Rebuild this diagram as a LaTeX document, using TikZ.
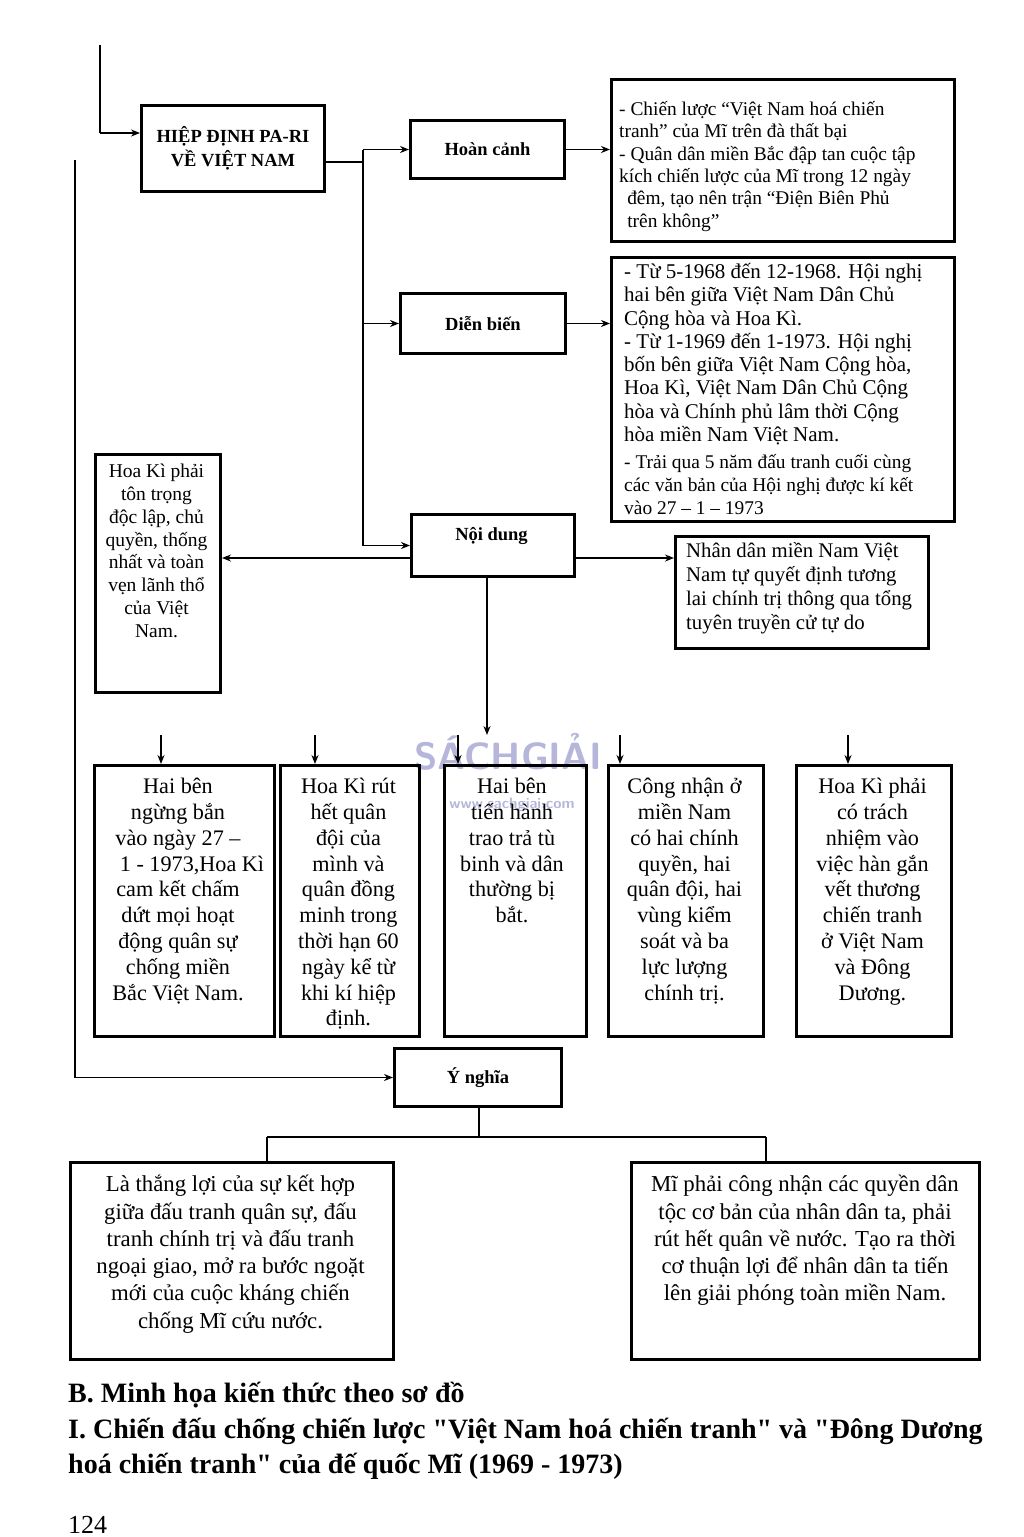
\documentclass[tikz,border=0pt]{standalone}
\usepackage{fontspec}
\setmainfont{Liberation Serif}
\newfontfamily\hfont{Liberation Serif}[Ligatures=TeXOff]
\usetikzlibrary{arrows.meta}
\begin{document}
\begin{tikzpicture}[x=1pt,y=-1pt,
  box/.style={draw, line width=3pt, inner sep=0pt, anchor=north west},
  conn/.style={line width=1.8pt},
  arr/.style={line width=1.8pt, -{Stealth[length=9pt,width=7pt]}},
  hd/.style={font=\fontsize{18.5}{24}\selectfont\bfseries, align=center},
  txt/.style={inner sep=0pt, anchor=north, align=center},
  ltxt/.style={inner sep=0pt, anchor=north west, align=left},
  heading/.style={inner sep=0pt, anchor=base west, font=\hfont\fontsize{28}{30}\selectfont\bfseries}]
\useasboundingbox (0,0) rectangle (1024,1537);
\fill[white] (0,0) rectangle (1024,1537);

% watermark
\node[inner sep=0pt, text=blue!35!gray!60, opacity=0.7, font=\fontsize{38}{38}\selectfont\sffamily\bfseries] (wm) at (508,752) {SÁCHGIẢI};
\node[inner sep=0pt, text=blue!35!gray!60, opacity=0.7, font=\fontsize{15}{15}\selectfont\sffamily\bfseries] (wmurl) at (512,805) {www.sachgiai.com};

% header boxes
\node[box, hd, minimum width=183pt, minimum height=86pt] (hiep) at (140,104) {HIỆP ĐỊNH PA-RI\\VỀ VIỆT NAM};
\node[box, hd, minimum width=154pt, minimum height=58pt] (hoan) at (409,119) {Hoàn cảnh};
\node[box, hd, minimum width=165pt, minimum height=60pt] (dien) at (399,292) {Diễn biến};
\node[box, minimum width=163pt, minimum height=62pt] (noi) at (410,513) {};
\node[hd, inner sep=0pt] (noit) at (491.5,536) {Nội dung};
\node[box, hd, minimum width=167pt, minimum height=58pt] (ynghia) at (393,1047) {Ý nghĩa};

% content boxes
\node[box, minimum width=343pt, minimum height=162pt] (b1) at (610,78) {};
\node[box, minimum width=343pt, minimum height=264pt] (b2) at (610,256) {};
\node[box, minimum width=125pt, minimum height=238pt] (lb) at (94,453) {};
\node[box, minimum width=253pt, minimum height=112pt] (nd) at (674,535) {};
\node[box, minimum width=180pt, minimum height=271pt] (c1) at (93,764) {};
\node[box, minimum width=139pt, minimum height=271pt] (c2) at (279,764) {};
\node[box, minimum width=142pt, minimum height=271pt] (c3) at (443,764) {};
\node[box, minimum width=155pt, minimum height=271pt] (c4) at (607,764) {};
\node[box, minimum width=155pt, minimum height=271pt] (c5) at (795,764) {};
\node[box, minimum width=323pt, minimum height=197pt] (bl) at (69,1161) {};
\node[box, minimum width=348pt, minimum height=197pt] (br) at (630,1161) {};

% texts
\node[ltxt, font=\fontsize{19.4}{22.4}\selectfont] (b1t) at (619,101) {- Chiến lược “Việt Nam hoá chiến\\tranh” của Mĩ trên đà thất bại\\- Quân dân miền Bắc đập tan cuộc tập\\kích chiến lược của Mĩ trong 12 ngày\\\ \,đêm, tạo nên trận “Điện Biên Phủ\\\ \,trên không”};
\node[ltxt, font=\fontsize{21}{23.3}\selectfont] (b2t) at (624,263) {- Từ 5-1968 đến 12-1968. Hội nghị\\hai bên giữa Việt Nam Dân Chủ\\Cộng hòa và Hoa Kì.\\- Từ 1-1969 đến 1-1973. Hội nghị\\bốn bên giữa Việt Nam Cộng hòa,\\Hoa Kì, Việt Nam Dân Chủ Cộng\\hòa và Chính phủ lâm thời Cộng\\hòa miền Nam Việt Nam.};
\node[ltxt, font=\fontsize{19.4}{23}\selectfont] (b2u) at (624,454) {- Trải qua 5 năm đấu tranh cuối cùng\\các văn bản của Hội nghị được kí kết\\vào 27 – 1 – 1973};
\node[txt, font=\fontsize{19.5}{22.8}\selectfont] (lbt) at (156.5,464) {Hoa Kì phải\\tôn trọng\\độc lập, chủ\\quyền, thống\\nhất và toàn\\vẹn lãnh thổ\\của Việt\\Nam.};
\node[ltxt, font=\fontsize{20.8}{24}\selectfont] (ndt) at (686,542) {Nhân dân miền Nam Việt\\Nam tự quyết định tương\\lai chính trị thông qua tổng\\tuyên truyền cử tự do};
\node[txt, font=\fontsize{22.2}{25.8}\selectfont] (c1t) at (178,778) {Hai bên\\ngừng bắn\\vào ngày 27 –\\\hspace*{28pt}1 - 1973,Hoa Kì\\cam kết chấm\\dứt mọi hoạt\\động quân sự\\chống miền\\Bắc Việt Nam.};
\node[txt, font=\fontsize{22.2}{25.8}\selectfont] (c2t) at (348.5,778) {Hoa Kì rút\\hết quân\\đội của\\mình và\\quân đồng\\minh trong\\thời hạn 60\\ngày kể từ\\khi kí hiệp\\định.};
\node[txt, font=\fontsize{22.2}{25.8}\selectfont] (c3t) at (512,778) {Hai bên\\tiến hành\\trao trả tù\\binh và dân\\thường bị\\bắt.};
\node[txt, font=\fontsize{22.2}{25.8}\selectfont] (c4t) at (684.5,778) {Công nhận ở\\miền Nam\\có hai chính\\quyền, hai\\quân đội, hai\\vùng kiểm\\soát và ba\\lực lượng\\chính trị.};
\node[txt, font=\fontsize{22.2}{25.8}\selectfont] (c5t) at (872.5,778) {Hoa Kì phải\\có trách\\nhiệm vào\\việc hàn gắn\\vết thương\\chiến tranh\\ở Việt Nam\\và Đông\\Dương.};
\node[txt, font=\fontsize{22.8}{27.3}\selectfont] (blt) at (230.5,1175) {Là thắng lợi của sự kết hợp\\giữa đấu tranh quân sự, đấu\\tranh chính trị và đấu tranh\\ngoại giao, mở ra bước ngoặt\\mới của cuộc kháng chiến\\chống Mĩ cứu nước.};
\node[txt, font=\fontsize{22.8}{27.3}\selectfont] (brt) at (805,1175) {Mĩ phải công nhận các quyền dân\\tộc cơ bản của nhân dân ta, phải\\rút hết quân về nước. Tạo ra thời\\cơ thuận lợi để nhân dân ta tiến\\lên giải phóng toàn miền Nam.};

% connectors
\coordinate (top) at (100,45);
\coordinate (tin) at (100,133);
\draw[conn] (top) -- (tin);
\draw[arr] (tin) -- (hiep.west |- tin);
\coordinate (j1) at (363,162);
\draw[conn] (hiep.east |- j1) -- (j1);
\draw[conn] (hoan.west -| j1) -- (noi.west -| j1);
\draw[arr] (hoan.west -| j1) -- (hoan.west);
\draw[arr] (dien.west -| j1) -- (dien.west);
\draw[arr] (noi.west -| j1) -- (noi.west);
\draw[arr] (hoan.east) -- (b1.west |- hoan.east);
\draw[arr] (dien.east) -- (b2.west |- dien.east);
\coordinate (nl) at (410,558);
\coordinate (nr) at (573,558);
\draw[arr] (nl) -- (lb.east |- nl);
\draw[arr] (nr) -- (nd.west |- nr);
\coordinate (ndown) at (487,735);
\draw[arr] (noi.south -| ndown) -- (ndown);
\coordinate (s1) at (161,735);
\coordinate (s2) at (315,735);
\coordinate (s3) at (458,735);
\coordinate (s4) at (620,735);
\coordinate (s5) at (848,735);
\draw[arr] (s1) -- (s1 |- c1.north);
\draw[arr] (s2) -- (s2 |- c2.north);
\draw[arr] (s3) -- (s3 |- c3.north);
\draw[arr] (s4) -- (s4 |- c4.north);
\draw[arr] (s5) -- (s5 |- c5.north);
\coordinate (ltop) at (75,160);
\draw[arr] (ltop) |- (ynghia.west);
\coordinate (yb) at (479,1137);
\coordinate (h1) at (267,1137);
\coordinate (h2) at (766,1137);
\draw[conn] (ynghia.south -| yb) -- (yb);
\draw[conn] (h1) -- (h2);
\draw[conn] (h1) -- (h1 |- bl.north);
\draw[conn] (h2) -- (h2 |- br.north);

% headings
\node[heading] (hB) at (68,1402) {B. Minh họa kiến thức theo sơ đồ};
\node[heading] (hI) at (68,1438) {I. Chiến đấu chống chiến lược "Việt Nam hoá chiến tranh" và "Đông Dương};
\node[heading] (hI2) at (68,1473) {hoá chiến tranh" của đế quốc Mĩ (1969 - 1973)};
\node[inner sep=0pt, anchor=base west, font=\fontsize{26}{28}\selectfont] (pg) at (68,1533) {124};
\end{tikzpicture}
\end{document}
